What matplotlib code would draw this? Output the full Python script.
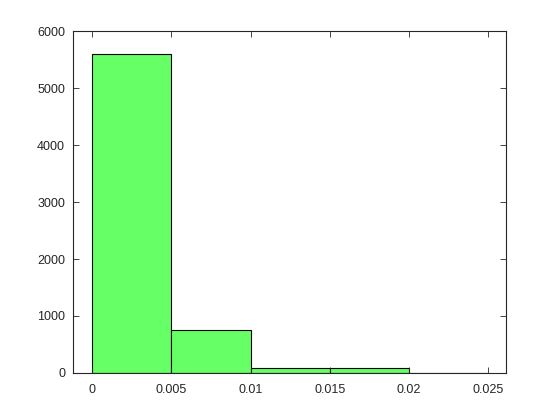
import matplotlib
matplotlib.use('Agg')
import matplotlib.pyplot as plt
import numpy as np

# histogram bin edges and counts
edges = [0, 0.005, 0.01, 0.015, 0.02, 0.025]
counts = [5600, 750, 95, 95, 0]
xticks = [0, 0.005, 0.01, 0.015, 0.02, 0.025]
xticklabels = ['0', '0.005', '0.01', '0.015', '0.02', '0.025']
yticks = [0, 1000, 2000, 3000, 4000, 5000, 6000]

plt.rcParams['font.family'] = ['Liberation Sans', 'DejaVu Sans']

fig = plt.figure(figsize=(5.6, 4.2), dpi=100)
ax = fig.add_axes([0.131, 0.112, 0.773, 0.814])

left = np.array(edges[:-1])
widths = np.diff(edges)
ax.bar(left, counts, width=widths, align='edge', color='#66ff66',
       edgecolor='black', linewidth=0.8)

ax.set_xlim(-0.0012, 0.02615)
ax.set_ylim(0, 6000)
ax.set_xticks(xticks)
ax.set_xticklabels(xticklabels)
ax.set_yticks(yticks)
ax.tick_params(direction='in', top=True, right=True, labelsize=9,
               length=4, width=0.6, colors='#262626', labelcolor='#262626')
ax.tick_params(axis='x', pad=8)
ax.tick_params(axis='y', pad=6)
for s in ax.spines.values():
    s.set_linewidth(0.8)
    s.set_color('#262626')

fig.savefig('out.png', dpi=100)
